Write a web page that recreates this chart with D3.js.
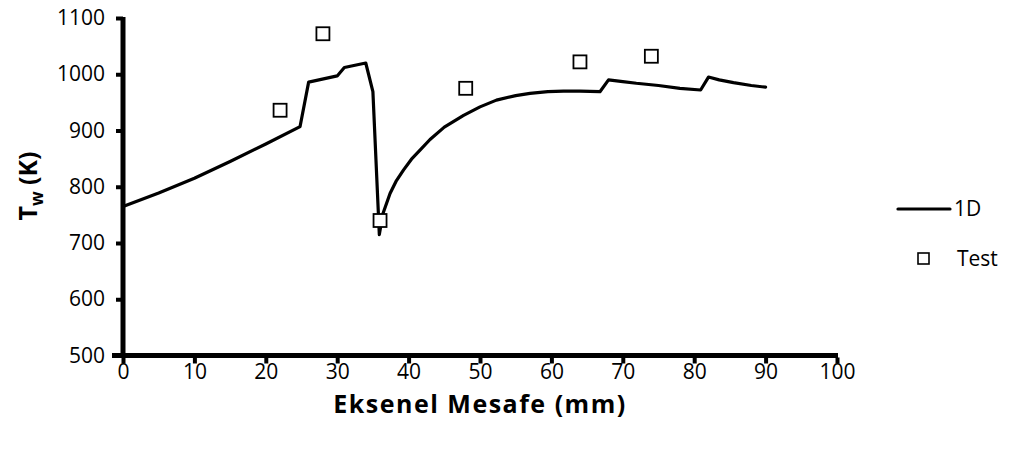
<!DOCTYPE html>
<html>
<head>
<meta charset="utf-8">
<script src="https://cdn.jsdelivr.net/npm/d3@7"></script>
<style>
  html, body { margin: 0; padding: 0; background: #fff; }
  svg { display: block; }
  text { font-family: "Open Sans", "Liberation Sans", sans-serif; fill: #000; }
</style>
</head>
<body>
<svg id="chart" width="1012" height="452"></svg>
<script>
// 1D model wall temperature along the axis (mm, K)
const modelX = [0, 5, 10, 15, 20, 24.8, 26, 30, 31, 34, 35, 35.9, 36.4, 37.4, 38.3, 39.3, 40.4, 41.6, 43, 45, 47.7, 50, 52.3, 55, 57, 59.5, 61.7, 64, 66.8, 68, 70, 71.9, 75, 78, 80.9, 82, 83.5, 85.5, 88, 90];
const modelY = [765, 789, 815, 845, 876, 907, 986, 997, 1012, 1020, 969, 715, 752, 788, 811, 830, 849, 865, 884, 906, 927, 942, 954, 962, 966, 969, 970, 970, 969, 990, 987, 984, 980, 975, 972, 995, 990, 985, 980, 977];

// Measured wall temperature
const testX = [22, 28, 36, 48, 64, 74];
const testY = [936, 1072, 740, 975, 1022, 1032];

// Axis ticks
const xTicks = [0, 10, 20, 30, 40, 50, 60, 70, 80, 90, 100];
const yTicks = [500, 600, 700, 800, 900, 1000, 1100];

const seriesNames = ["1D", "Test"];

const svg = d3.select("#chart");

const x = d3.scaleLinear().domain([0, 100]).range([123, 837]);
const y = d3.scaleLinear().domain([500, 1100]).range([355.5, 18]);

// Axes
const xAxis = d3.axisBottom(x).tickValues(xTicks).tickFormat(d3.format("d"))
  .tickSize(8).tickSizeOuter(0).tickPadding(1);
const yAxis = d3.axisLeft(y).tickValues(yTicks).tickFormat(d3.format("d"))
  .tickSize(7).tickSizeOuter(0).tickPadding(11);

const gx = svg.append("g").attr("transform", `translate(0,${y(500)})`).call(xAxis);
const gy = svg.append("g").attr("transform", `translate(${x(0)},0)`).call(yAxis);

[gx, gy].forEach(g => {
  g.select(".domain").attr("stroke", "#000").attr("stroke-width", 5);
  g.selectAll(".tick line").attr("stroke", "#000").attr("stroke-width", 4);
  g.selectAll(".tick text")
    .attr("font-family", "'Open Sans', sans-serif")
    .attr("font-size", 21)
    .attr("fill", "#000");
});
// extend the x-axis line to the left so it joins the y-axis tick
gx.select(".domain").attr("d", `M${x(0) - 11},0H${x(100) + 1}`);
gy.select(".domain").attr("d", `M0,${y(1100) - 1}V${y(500) + 2}`);
gx.selectAll(".tick line").attr("y1", 2).attr("y2", 8);

// Axis titles
svg.append("text")
  .attr("x", 480).attr("y", 413)
  .attr("text-anchor", "middle")
  .attr("font-size", 25).attr("font-weight", "bold")
  .attr("letter-spacing", 1.5)
  .text("Eksenel Mesafe (mm)");

const yTitle = svg.append("text")
  .attr("transform", "translate(37,186) rotate(-90)")
  .attr("text-anchor", "middle")
  .attr("font-size", 25).attr("font-weight", "bold");
yTitle.append("tspan").text("T");
yTitle.append("tspan").attr("font-size", 17).attr("dy", 6).text("w");
yTitle.append("tspan").attr("dy", -6).text(" (K)");

// Model line
const line = d3.line().x(d => x(d[0])).y(d => y(d[1]));
svg.append("path")
  .datum(d3.zip(modelX, modelY))
  .attr("fill", "none")
  .attr("stroke", "#000")
  .attr("stroke-width", 3.2)
  .attr("stroke-linejoin", "round")
  .attr("stroke-linecap", "round")
  .attr("d", line);

// Test markers
const ms = 13;
svg.append("g").selectAll("rect")
  .data(d3.zip(testX, testY))
  .join("rect")
  .attr("x", d => x(d[0]) - ms / 2)
  .attr("y", d => y(d[1]) - ms / 2)
  .attr("width", ms).attr("height", ms)
  .attr("fill", "#fff")
  .attr("stroke", "#000")
  .attr("stroke-width", 1.8);

// Legend
const lg = svg.append("g");
lg.append("line")
  .attr("x1", 898).attr("x2", 950).attr("y1", 209).attr("y2", 209)
  .attr("stroke", "#000").attr("stroke-width", 3.2).attr("stroke-linecap", "round");
lg.append("text").attr("x", 954).attr("y", 216).attr("font-size", 21).text(seriesNames[0]);
lg.append("rect")
  .attr("x", 918).attr("y", 253).attr("width", 11).attr("height", 11)
  .attr("fill", "#fff").attr("stroke", "#000").attr("stroke-width", 1.6);
lg.append("text").attr("x", 957).attr("y", 266).attr("font-size", 21).text(seriesNames[1]);
</script>
</body>
</html>
